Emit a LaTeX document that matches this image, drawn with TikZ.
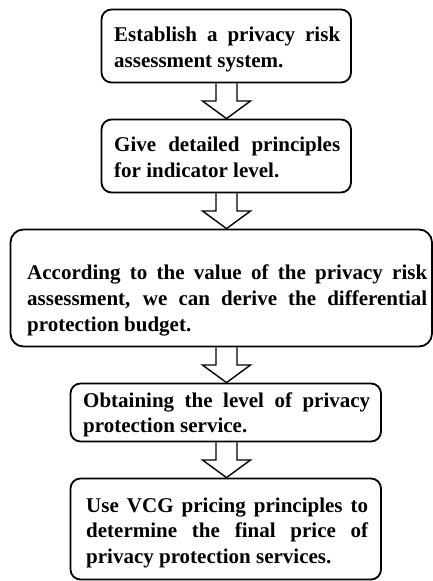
\documentclass[tikz,border=0pt]{standalone}
\usepackage{fontspec}
\setmainfont{Liberation Serif}
\usetikzlibrary{calc}

\tikzset{
  stage/.style={draw=black, line width=1.8pt, rounded corners=10pt, inner sep=0pt},
  stagetext/.style={anchor=base west, inner sep=0pt, font=\bfseries\fontsize{21}{25.8}\selectfont},
  flow/.style={draw=black, line width=1.4pt, line join=miter}
}

% hollow block arrow from the bottom of one stage to the top of the next
\newcommand\flowarrow[2]{%
  \coordinate (#1-top) at (#1.south -| axis);
  \coordinate (#1-tip) at (#2.north -| axis);
  \coordinate (#1-mid) at ($(#1-top)!0.5!(#1-tip)$);
  \draw[flow] ($(#1-top)+(-10.5pt,0)$) -- ($(#1-mid)+(-10.5pt,0)$)
    -- ($(#1-mid)+(-24pt,0)$) -- (#1-tip) -- ($(#1-mid)+(24pt,0)$)
    -- ($(#1-mid)+(10.5pt,0)$) -- ($(#1-top)+(10.5pt,0)$);
}

\begin{document}
\begin{tikzpicture}[x=1pt, y=-1pt]
  \useasboundingbox (0,0) rectangle (433,581);
  \coordinate (axis) at (226.5,0);

  % stage frames
  \node[stage, minimum width=249.5pt, minimum height=73pt]  (b1) at (226.25,46)  {};
  \node[stage, minimum width=249.5pt, minimum height=73pt]  (b2) at (226.25,156) {};
  \node[stage, minimum width=421.5pt, minimum height=117pt, rounded corners=13pt] (b3) at (221.25,288) {};
  \node[stage, minimum width=310.5pt, minimum height=58pt]  (b4) at (225.75,412.5) {};
  \node[stage, minimum width=310.5pt, minimum height=101pt] (b5) at (225.75,529) {};

  % stage texts, justified line by line
  \node[stagetext] (t1) at (114,41.7) {\parbox[t]{226pt}{%
    \makebox[226pt][s]{Establish a privacy risk}\\assessment system.}};
  \node[stagetext] (t2) at (114,151.7) {\parbox[t]{226pt}{%
    \makebox[226pt][s]{Give detailed principles}\\for indicator level.}};
  \node[stagetext] (t3) at (27,279.5) {\parbox[t]{400pt}{%
    \makebox[400pt][s]{According to the value of the privacy risk}\\
    \makebox[400pt][s]{assessment, we can derive the differential}\\
    protection budget.}};
  \node[stagetext] (t4) at (83,407) {\parbox[t]{287pt}{%
    \makebox[287pt][s]{Obtaining the level of privacy}\\protection service.}};
  \node[stagetext] (t5) at (86,512) {\parbox[t]{282pt}{%
    \makebox[282pt][s]{Use VCG pricing principles to}\\
    \makebox[282pt][s]{determine the final price of}\\
    privacy protection services.}};

  % arrows between stages
  \flowarrow{b1}{b2}
  \flowarrow{b2}{b3}
  \flowarrow{b3}{b4}
  \flowarrow{b4}{b5}
\end{tikzpicture}
\end{document}
